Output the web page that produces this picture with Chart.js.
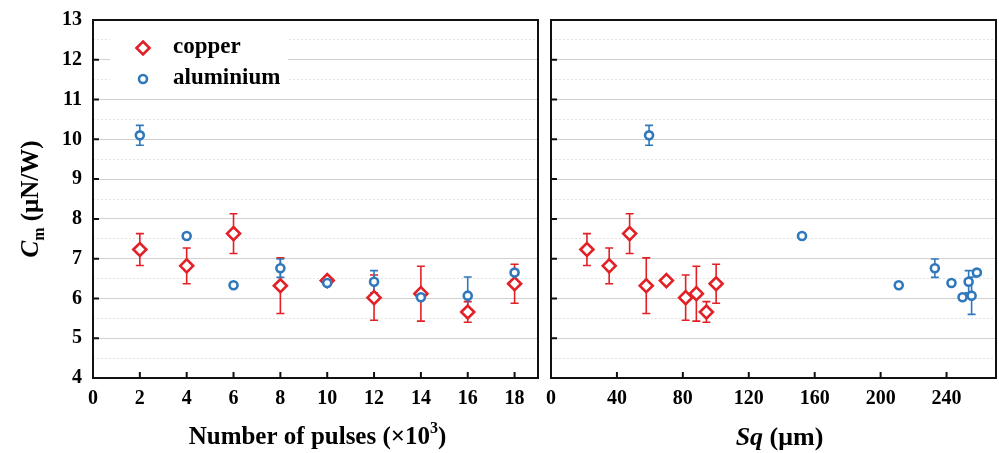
<!DOCTYPE html>
<html>
<head>
<meta charset="utf-8">
<script src="https://cdn.jsdelivr.net/npm/chart.js"></script>
<style>
  html, body { margin: 0; padding: 0; background: #fff; }
  #wrap { position: relative; width: 999px; height: 453px; }
  #leftChart { position: absolute; left: 0; top: 0; }
  #rightChart { position: absolute; left: 545px; top: 0; }
</style>
</head>
<body>
<div id="wrap">
  <canvas id="leftChart" width="545" height="453"></canvas>
  <canvas id="rightChart" width="454" height="453"></canvas>
</div>
<script>
// values
var pulses = [2, 4, 6, 8, 10, 12, 14, 16, 18];           // x10^3
var copperCm = [7.23, 6.82, 7.63, 6.32, 6.45, 6.02, 6.12, 5.66, 6.37];
var copperErr = [0.40, 0.45, 0.50, 0.70, 0.06, 0.57, 0.69, 0.26, 0.49];
var copperSq = [21.8, 35.3, 47.7, 57.8, 70.0, 81.7, 88.2, 94.3, 100.2];
var aluminiumCm = [10.10, 7.57, 6.33, 6.76, 6.39, 6.42, 6.03, 6.07, 6.65];
var aluminiumErr = [0.25, 0.06, 0.04, 0.23, 0.05, 0.28, 0.06, 0.47, 0.05];
var aluminiumSq = [59.5, 152.3, 211.0, 232.9, 243.0, 253.4, 249.7, 255.2, 258.4];
var seriesNames = ['copper', 'aluminium'];

var RED = 'rgb(226, 32, 38)';
var BLUE = 'rgb(48, 120, 188)';
var SERIF = '"Liberation Serif", "Times New Roman", serif';

Chart.defaults.font.family = SERIF;
Chart.defaults.color = '#000';

function points(xs, ys) {
    return xs.map(function (x, i) { return { x: x, y: ys[i] }; });
}

function fontFor(p, size) {
    var s = (p.sub || p.sup) ? Math.round(size * 0.62) : size;
    return (p.italic ? 'italic ' : '') + 'bold ' + s + 'px ' + SERIF;
}

// axis titles with italic / sub / superscript parts
function drawRich(ctx, parts, cx, cy, rot, size) {
    ctx.save();
    ctx.translate(cx, cy);
    ctx.rotate(rot);
    ctx.textBaseline = 'middle';
    ctx.textAlign = 'left';
    ctx.fillStyle = '#000';
    var widths = parts.map(function (p) {
        ctx.font = fontFor(p, size);
        return ctx.measureText(p.text).width;
    });
    var total = widths.reduce(function (a, b) { return a + b; }, 0);
    var x = -total / 2;
    parts.forEach(function (p, i) {
        ctx.font = fontFor(p, size);
        var dy = p.sub ? size * 0.3 : (p.sup ? -size * 0.35 : 0);
        ctx.fillText(p.text, x, dy);
        x += widths[i];
    });
    ctx.restore();
}

// vertical error bars, drawn under the markers
var errorBarPlugin = {
    id: 'errorBars',
    beforeDatasetsDraw: function (chart) {
        var ctx = chart.ctx;
        var xs = chart.scales.x, ys = chart.scales.y;
        ctx.save();
        chart.data.datasets.forEach(function (ds) {
            ctx.strokeStyle = ds.borderColor;
            ctx.lineWidth = 1.6;
            ds.data.forEach(function (pt, i) {
                var e = ds.errorBars[i];
                var px = xs.getPixelForValue(pt.x);
                var top = ys.getPixelForValue(pt.y + e);
                var bot = ys.getPixelForValue(pt.y - e);
                ctx.beginPath();
                ctx.moveTo(px, top); ctx.lineTo(px, bot);
                ctx.moveTo(px - 4, top); ctx.lineTo(px + 4, top);
                ctx.moveTo(px - 4, bot); ctx.lineTo(px + 4, bot);
                ctx.stroke();
            });
        });
        ctx.restore();
    }
};

// box frame + inward ticks
var framePlugin = {
    id: 'frame',
    afterDraw: function (chart) {
        var ctx = chart.ctx, a = chart.chartArea;
        var xs = chart.scales.x, ys = chart.scales.y;
        ctx.save();
        ctx.strokeStyle = '#111';
        ctx.lineWidth = 2;
        ctx.beginPath();
        xs.ticks.forEach(function (t) {
            var px = xs.getPixelForValue(t.value);
            ctx.moveTo(px, a.bottom); ctx.lineTo(px, a.bottom - 6);
        });
        ys.ticks.forEach(function (t) {
            if (t.value % 1 !== 0) return;
            var py = ys.getPixelForValue(t.value);
            ctx.moveTo(a.left, py); ctx.lineTo(a.left + 6, py);
        });
        ctx.stroke();
        ctx.strokeRect(a.left, a.top, a.right - a.left, a.bottom - a.top);
        ctx.restore();
    }
};

function makeDatasets(copperX, aluminiumX) {
    return [{
        label: seriesNames[0],
        data: points(copperX, copperCm),
        errorBars: copperErr,
        borderColor: RED,
        backgroundColor: '#fff',
        pointStyle: 'rectRot',
        pointRadius: 6.5,
        pointBorderWidth: 2.6,
        showLine: false,
        order: 2
    }, {
        label: seriesNames[1],
        data: points(aluminiumX, aluminiumCm),
        errorBars: aluminiumErr,
        borderColor: BLUE,
        backgroundColor: '#fff',
        pointStyle: 'circle',
        pointRadius: 4,
        pointBorderWidth: 2.6,
        showLine: false,
        order: 1
    }];
}

function makeScales(xMax, xStep, yWidth, showYLabels) {
    return {
        x: {
            type: 'linear',
            min: 0,
            max: xMax,
            afterFit: function (s) {
                s.height = 75;
                s.paddingLeft = 0;
                s.paddingRight = 0;
            },
            border: { display: false },
            grid: { drawOnChartArea: false, drawTicks: false },
            ticks: {
                stepSize: xStep,
                includeBounds: false,
                padding: 9,
                maxRotation: 0,
                font: { size: 20, weight: 'bold' }
            }
        },
        y: {
            type: 'linear',
            min: 4,
            max: 13,
            afterFit: function (s) {
                s.width = yWidth;
                s.paddingTop = 0;
                s.paddingBottom = 0;
            },
            border: {
                display: false,
                dash: function (c) { return (c.tick && c.tick.value % 1 !== 0) ? [2, 2] : []; }
            },
            grid: {
                drawTicks: false,
                lineWidth: 1,
                color: function (c) { return (c.tick && c.tick.value % 1 !== 0) ? '#e2e2e2' : '#d0d0d0'; }
            },
            ticks: {
                display: showYLabels,
                stepSize: 0.5,
                autoSkip: false,
                padding: 11,
                font: { size: 20, weight: 'bold' },
                callback: function (v) { return v % 1 === 0 ? v : ''; }
            }
        }
    };
}

document.addEventListener("DOMContentLoaded", function () {
    var leftTitles = {
        id: 'leftTitles',
        afterDraw: function (chart) {
            var ctx = chart.ctx, a = chart.chartArea;
            drawRich(ctx, [{ text: 'Number of pulses (×10' }, { text: '3', sup: true }, { text: ')' }],
                (a.left + a.right) / 2 + 2, 438, 0, 25);
            drawRich(ctx, [{ text: 'C', italic: true }, { text: 'm', sub: true }, { text: ' (μN/W)' }],
                32, (a.top + a.bottom) / 2, -Math.PI / 2, 25);

            // legend in the upper left corner
            ctx.save();
            ctx.fillStyle = '#fff';
            ctx.fillRect(110, 33, 178, 59);
            var ds = chart.data.datasets;
            ctx.lineWidth = 2.6;
            ctx.strokeStyle = ds[0].borderColor;
            ctx.beginPath();
            ctx.moveTo(143, 48 - 6.5); ctx.lineTo(149.5, 48); ctx.lineTo(143, 48 + 6.5); ctx.lineTo(136.5, 48);
            ctx.closePath();
            ctx.stroke();
            ctx.strokeStyle = ds[1].borderColor;
            ctx.beginPath();
            ctx.arc(143, 79, 4, 0, Math.PI * 2);
            ctx.stroke();
            ctx.fillStyle = '#000';
            ctx.font = 'bold 23px ' + SERIF;
            ctx.textBaseline = 'middle';
            ctx.fillText(ds[0].label, 173, 47);
            ctx.fillText(ds[1].label, 173, 78);
            ctx.restore();
        }
    };

    new Chart(document.getElementById('leftChart').getContext('2d'), {
        type: 'scatter',
        data: { datasets: makeDatasets(pulses, pulses) },
        options: {
            responsive: false,
            animation: false,
            layout: { autoPadding: false, padding: { top: 20, right: 7, left: 0, bottom: 0 } },
            plugins: { legend: { display: false }, tooltip: { enabled: false } },
            scales: makeScales(19, 2, 93, true)
        },
        plugins: [errorBarPlugin, framePlugin, leftTitles]
    });

    var rightTitles = {
        id: 'rightTitles',
        afterDraw: function (chart) {
            var a = chart.chartArea;
            drawRich(chart.ctx, [{ text: 'Sq', italic: true }, { text: ' (μm)' }],
                (a.left + a.right) / 2 + 6, 438, 0, 26);
        }
    };

    new Chart(document.getElementById('rightChart').getContext('2d'), {
        type: 'scatter',
        data: { datasets: makeDatasets(copperSq, aluminiumSq) },
        options: {
            responsive: false,
            animation: false,
            layout: { autoPadding: false, padding: { top: 20, right: 3, left: 0, bottom: 0 } },
            plugins: { legend: { display: false }, tooltip: { enabled: false } },
            scales: makeScales(270, 40, 6, false)
        },
        plugins: [errorBarPlugin, framePlugin, rightTitles]
    });
});
</script>
</body>
</html>
